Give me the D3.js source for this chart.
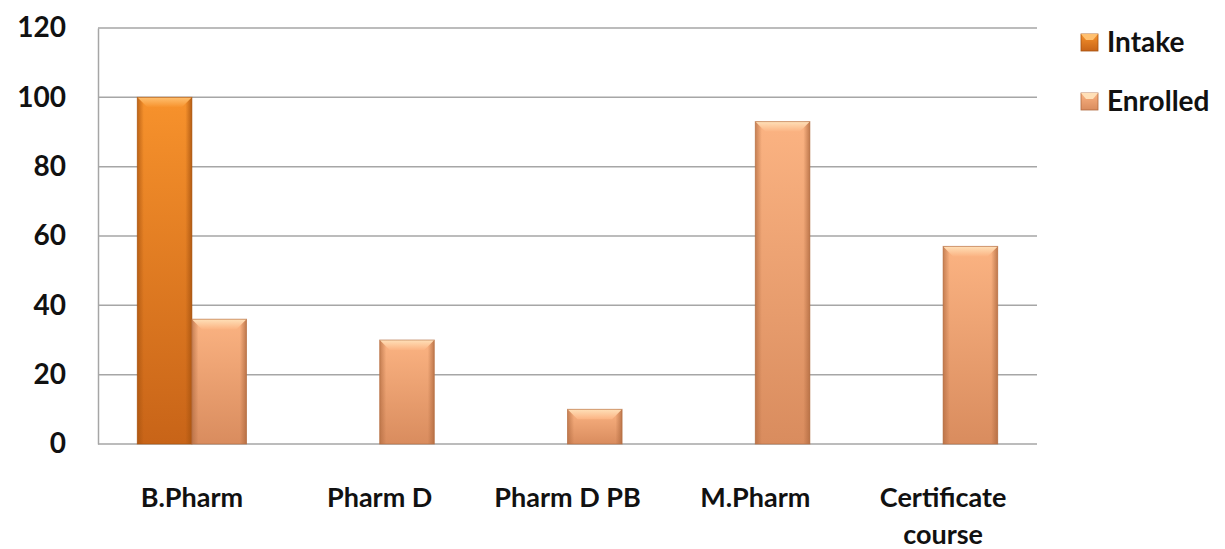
<!DOCTYPE html>
<html>
<head>
<meta charset="utf-8">
<script src="https://cdn.jsdelivr.net/npm/d3@7"></script>
<style>
  body { margin: 0; background: #fff; }
  text { font-family: Lato, "Open Sans", sans-serif; font-weight: bold; fill: #111; }
</style>
</head>
<body>
<div id="chart"></div>
<script>
// data
var categories = ["B.Pharm", "Pharm D", "Pharm D PB", "M.Pharm", "Certificate course"];
var seriesNames = ["Intake", "Enrolled"];
var intake = [100, null, null, null, null];
var enrolled = [36, 30, 10, 93, 57];
var yTicks = [0, 20, 40, 60, 80, 100, 120];

var svgWidth = 1225;
var svgHeight = 549;

var margin = { top: 28, right: 188, bottom: 105, left: 98 };
var width = svgWidth - margin.left - margin.right;
var height = svgHeight - margin.top - margin.bottom;

var svg = d3.select("#chart")
  .append("svg")
  .attr("width", svgWidth)
  .attr("height", svgHeight);

// gradients for the bevelled bars
var defs = svg.append("defs");
var palettes = {
  Intake: { top: "#f7922c", bottom: "#c86418", edge: "#a5520f", hi: "#ffc070" },
  Enrolled: { top: "#fbb382", bottom: "#d98c5e", edge: "#b06a40", hi: "#ffe0b8" }
};
seriesNames.forEach(function (s) {
  var p = palettes[s];
  var g = defs.append("linearGradient").attr("id", "v-" + s)
    .attr("x1", 0).attr("y1", 0).attr("x2", 0).attr("y2", 1);
  g.append("stop").attr("offset", "0%").attr("stop-color", p.top);
  g.append("stop").attr("offset", "100%").attr("stop-color", p.bottom);
  var h = defs.append("linearGradient").attr("id", "h-" + s)
    .attr("x1", 0).attr("y1", 0).attr("x2", 1).attr("y2", 0);
  h.append("stop").attr("offset", "0%").attr("stop-color", p.edge).attr("stop-opacity", 0.7);
  h.append("stop").attr("offset", "12%").attr("stop-color", p.edge).attr("stop-opacity", 0);
  h.append("stop").attr("offset", "88%").attr("stop-color", p.edge).attr("stop-opacity", 0);
  h.append("stop").attr("offset", "100%").attr("stop-color", p.edge).attr("stop-opacity", 0.8);
  var b = defs.append("linearGradient").attr("id", "b-" + s)
    .attr("x1", 0).attr("y1", 0).attr("x2", 0).attr("y2", 1);
  b.append("stop").attr("offset", "0%").attr("stop-color", p.hi);
  b.append("stop").attr("offset", "100%").attr("stop-color", p.top);
});

var chartGroup = svg.append("g")
  .attr("transform", `translate(${margin.left}, ${margin.top})`);

// scales
var xScale = d3.scaleBand()
  .domain(categories)
  .range([0, width])
  .paddingInner(0)
  .paddingOuter(0);

var x1 = d3.scaleBand()
  .domain(seriesNames)
  .range([0, xScale.bandwidth()])
  .paddingInner(0)
  .paddingOuter(0.72);

var yScale = d3.scaleLinear()
  .domain([0, 120])
  .range([height, 0]);

// gridlines
chartGroup.append("g")
  .selectAll("line")
  .data(yTicks)
  .enter()
  .append("line")
  .attr("x1", 0)
  .attr("x2", width)
  .attr("y1", d => yScale(d))
  .attr("y2", d => yScale(d))
  .attr("stroke", "#a6a6a6")
  .attr("stroke-width", 1.5);

// left axis
var leftAxis = d3.axisLeft(yScale).tickValues(yTicks).tickSize(0).tickPadding(32);
var yAxisG = chartGroup.append("g").call(leftAxis);
yAxisG.select(".domain").attr("stroke", "#a6a6a6").attr("stroke-width", 1.5);
yAxisG.selectAll("text")
  .attr("font-size", 28)
  .attr("font-family", "Lato, sans-serif")
  .attr("font-weight", "bold")
  .attr("fill", "#111");

// bars
var rows = [];
categories.forEach(function (c, i) {
  rows.push({ cat: c, series: "Intake", value: intake[i] });
  rows.push({ cat: c, series: "Enrolled", value: enrolled[i] });
});
rows = rows.filter(d => d.value != null);

var barGroup = chartGroup.selectAll(".bar")
  .data(rows)
  .enter()
  .append("g")
  .attr("class", "bar")
  .attr("transform", d => `translate(${xScale(d.cat) + x1(d.series)}, ${yScale(d.value)})`);

var bw = x1.bandwidth();
barGroup.append("rect")
  .attr("width", bw)
  .attr("height", d => height - yScale(d.value))
  .attr("fill", d => `url(#v-${d.series})`);
barGroup.append("rect")
  .attr("width", bw)
  .attr("height", d => height - yScale(d.value))
  .attr("fill", d => `url(#h-${d.series})`);
// top bevel
barGroup.append("path")
  .attr("d", d => {
    var bev = Math.min(10, (height - yScale(d.value)) / 2);
    return `M0,0 L${bw},0 L${bw - bev},${bev} L${bev},${bev} Z`;
  })
  .attr("fill", d => `url(#b-${d.series})`);
barGroup.append("rect")
  .attr("width", bw)
  .attr("height", d => height - yScale(d.value))
  .attr("fill", "none")
  .attr("stroke", d => palettes[d.series].edge)
  .attr("stroke-opacity", 0.6)
  .attr("stroke-width", 1);

// x labels
var xLabels = chartGroup.selectAll(".xlabel")
  .data(categories)
  .enter()
  .append("text")
  .attr("class", "xlabel")
  .attr("text-anchor", "middle")
  .attr("font-size", 27)
  .attr("x", d => xScale(d) + xScale.bandwidth() / 2)
  .attr("y", height + 63);

xLabels.each(function (d) {
  var t = d3.select(this);
  var parts = d === "Certificate course" ? ["Certificate", "course"] : [d];
  parts.forEach(function (p, i) {
    t.append("tspan")
      .attr("x", xScale(d) + xScale.bandwidth() / 2)
      .attr("dy", i === 0 ? 0 : 37)
      .text(p);
  });
});

// legend
var legend = svg.append("g")
  .attr("transform", "translate(1081, 42)");
seriesNames.forEach(function (s, i) {
  var row = legend.append("g").attr("transform", `translate(0, ${i * 59})`);
  row.append("rect")
    .attr("x", 0).attr("y", -8)
    .attr("width", 17).attr("height", 17)
    .attr("fill", `url(#v-${s})`)
    .attr("stroke", palettes[s].edge).attr("stroke-width", 0.8);
  row.append("path")
    .attr("d", "M0,-8 L17,-8 L12,-2 L5,-2 Z")
    .attr("fill", palettes[s].hi);
  row.append("text")
    .attr("x", 26)
    .attr("y", 10)
    .attr("font-size", 28)
    .text(s);
});
</script>
</body>
</html>
